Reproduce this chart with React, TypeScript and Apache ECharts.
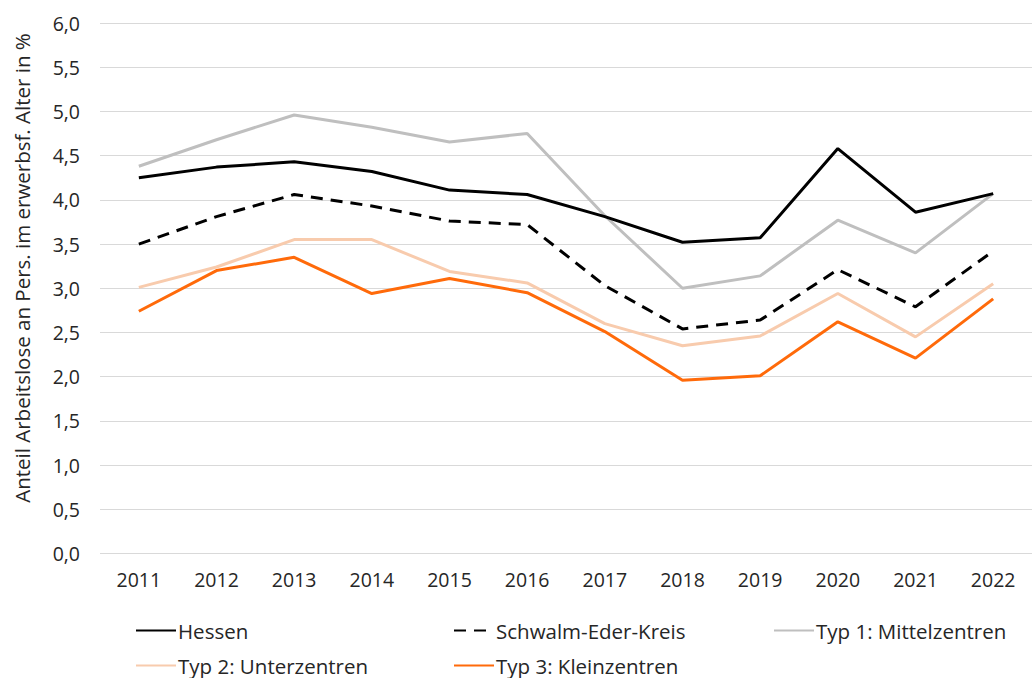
import React, { useEffect, useRef } from "react";
import * as echarts from "echarts";

const years = ["2011", "2012", "2013", "2014", "2015", "2016", "2017", "2018", "2019", "2020", "2021", "2022"];
const hessen = [4.25, 4.37, 4.43, 4.32, 4.11, 4.06, 3.81, 3.52, 3.57, 4.58, 3.86, 4.07];
const schwalmEder = [3.5, 3.81, 4.06, 3.93, 3.76, 3.72, 3.03, 2.54, 2.64, 3.21, 2.79, 3.42];
const typ1 = [4.38, 4.68, 4.96, 4.82, 4.655, 4.75, 3.82, 3.0, 3.14, 3.77, 3.4, 4.07];
const typ2 = [3.01, 3.24, 3.55, 3.55, 3.19, 3.06, 2.6, 2.35, 2.46, 2.94, 2.45, 3.05];
const typ3 = [2.74, 3.2, 3.35, 2.94, 3.11, 2.95, 2.51, 1.96, 2.01, 2.62, 2.21, 2.88];

const seriesNames = ["Hessen", "Schwalm-Eder-Kreis", "Typ 1: Mittelzentren", "Typ 2: Unterzentren", "Typ 3: Kleinzentren"];
const seriesData = [hessen, schwalmEder, typ1, typ2, typ3];
const colors = ["#000000", "#000000", "#bfbfbf", "#f8cbad", "#ff6a0a"];
const yTitle = "Anteil Arbeitslose an Pers. im erwerbsf. Alter in %";

const FONT = "'Open Sans', sans-serif";

export default function App() {
  const ref = useRef<HTMLDivElement>(null);
  useEffect(() => {
    if (!ref.current) return;
    const chart = echarts.init(ref.current, undefined, { renderer: "svg" });
    const legendPos = [
      { left: 135, top: 620 },
      { left: 453, top: 620 },
      { left: 773, top: 620 },
      { left: 135, top: 655 },
      { left: 453, top: 655 },
    ];
    chart.setOption({
      animation: false,
      backgroundColor: "#ffffff",
      textStyle: { fontFamily: FONT },
      grid: { left: 100, right: -10, top: 23, bottom: 124.5, containLabel: false },
      xAxis: {
        type: "category",
        data: years,
        boundaryGap: true,
        axisLine: { show: false },
        axisTick: { show: false },
        axisLabel: { color: "#262626", fontSize: 19.5, fontFamily: FONT, margin: 16 },
      },
      yAxis: {
        type: "value",
        min: 0,
        max: 6,
        interval: 0.5,
        axisLine: { show: false },
        axisTick: { show: false },
        splitLine: { lineStyle: { color: "#d9d9d9", width: 1 } },
        axisLabel: {
          color: "#262626",
          fontSize: 19.5,
          fontFamily: FONT,
          margin: 20,
          formatter: (v: number) => v.toFixed(1).replace(".", ","),
        },
      },
      legend: seriesNames.map((n, i) => ({
        data: [n],
        left: legendPos[i].left,
        top: legendPos[i].top,
        itemWidth: 40,
        itemHeight: 14,
        padding: 0,
        itemStyle: { opacity: 0 },
        textStyle: { color: "#262626", fontSize: 20.5, fontFamily: FONT, padding: [0, 0, 0, -3] },
      })),
      graphic: [
        {
          type: "text",
          x: 22,
          y: 268,
          rotation: Math.PI / 2,
          style: {
            text: yTitle,
            fill: "#262626",
            fontSize: 20.5,
            fontFamily: FONT,
            textAlign: "center",
            textVerticalAlign: "middle",
          },
        },
      ],
      series: seriesNames.map((n, i) => ({
        name: n,
        type: "line",
        data: seriesData[i],
        symbol: "none",
        showSymbol: false,
        color: colors[i],
        lineStyle: {
          color: colors[i],
          width: 3,
          type: i === 1 ? [12, 8] : "solid",
        },
        z: 10 - i,
      })),
    });
    return () => chart.dispose();
  }, []);
  return (
    <div style={{ position: "absolute", left: 0, top: 0, width: 1032, height: 678 }}>
      <div ref={ref} style={{ width: 1032, height: 678 }} />
    </div>
  );
}
